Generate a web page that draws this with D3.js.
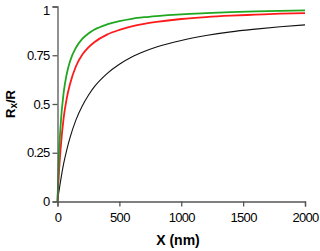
<!DOCTYPE html>
<html><head><meta charset="utf-8">
<script src="https://cdn.jsdelivr.net/npm/d3@7"></script>
<style>body{margin:0;background:#fff}svg{display:block}</style>
</head><body>
<svg id="c" width="320" height="251"></svg>
<script>
const xValues = [0, 10, 25, 50, 75, 100, 150, 200, 250, 300, 400, 500, 600, 700, 800, 1000, 1200, 1400, 1600, 1800, 2000];
const blackSeries = [0, 0.045, 0.106, 0.195, 0.265, 0.325, 0.42, 0.49, 0.545, 0.59, 0.656, 0.704, 0.741, 0.769, 0.792, 0.826, 0.851, 0.87, 0.884, 0.896, 0.906];
const redSeries = [0, 0.13, 0.27, 0.43, 0.53, 0.6, 0.695, 0.752, 0.79, 0.818, 0.856, 0.88, 0.898, 0.911, 0.921, 0.936, 0.946, 0.953, 0.958, 0.963, 0.966];
const greenSeries = [0, 0.21, 0.39, 0.56, 0.655, 0.717, 0.79, 0.834, 0.862, 0.882, 0.908, 0.925, 0.937, 0.945, 0.951, 0.96, 0.966, 0.971, 0.975, 0.978, 0.98];
const xTicks = [0, 500, 1000, 1500, 2000];
const yTicks = [0, 0.25, 0.5, 0.75, 1];
const yTickLabels = ["0", "0.25", "0.5", "0.75", "1"];

const svg = d3.select("#c");
const x = d3.scaleLinear().domain([0, 2000]).range([57.5, 305]);
const y = d3.scaleLinear().domain([0, 1]).range([201.5, 6.5]);
const font = "Liberation Sans, Arial, sans-serif";

const series = [
  {v: blackSeries, c: "#111", w: 1.1},
  {v: redSeries, c: "#ff1a1a", w: 1.8},
  {v: greenSeries, c: "#1fa81f", w: 1.8}
];
const line = d3.line().x((d, i) => x(xValues[i])).y(d => y(d)).curve(d3.curveMonotoneX);
series.forEach(s => {
  svg.append("path").datum(s.v).attr("d", line)
    .attr("fill", "none").attr("stroke", s.c).attr("stroke-width", s.w);
});

const xAxis = svg.append("g").attr("transform", `translate(0,${y(0)})`)
  .call(d3.axisBottom(x).tickValues(xTicks).tickFormat(d3.format("d")).tickSizeOuter(0).tickSize(5).tickPadding(6));
const yAxis = svg.append("g").attr("transform", `translate(${x(0)},0)`)
  .call(d3.axisLeft(y).tickValues(yTicks).tickFormat((d, i) => yTickLabels[i]).tickSizeOuter(0).tickSize(5).tickPadding(3));
[xAxis, yAxis].forEach(a => {
  a.select(".domain").attr("stroke", "#555").attr("stroke-width", 1.3);
  a.selectAll(".tick line").attr("stroke", "#555").attr("stroke-width", 1.3);
  a.selectAll("text").attr("fill", "#000").style("font-family", font).style("font-size", "13px").style("letter-spacing", "-0.7px");
});
yAxis.selectAll(".tick text").filter(d => d === 1).attr("dy", "0.62em");

svg.append("text").attr("x", 178).attr("y", 245).attr("text-anchor", "middle")
  .style("font-family", font).style("font-size", "14px").style("font-weight", "bold").text("X (nm)");

const yl = svg.append("text").attr("transform", "translate(15,104) rotate(-90)").attr("text-anchor", "middle")
  .style("font-family", font).style("font-size", "13px").style("font-weight", "bold");
yl.append("tspan").text("R");
yl.append("tspan").attr("dy", 2).style("font-size", "10px").text("x");
yl.append("tspan").attr("dy", -2).text("/R");
</script>
</body></html>
